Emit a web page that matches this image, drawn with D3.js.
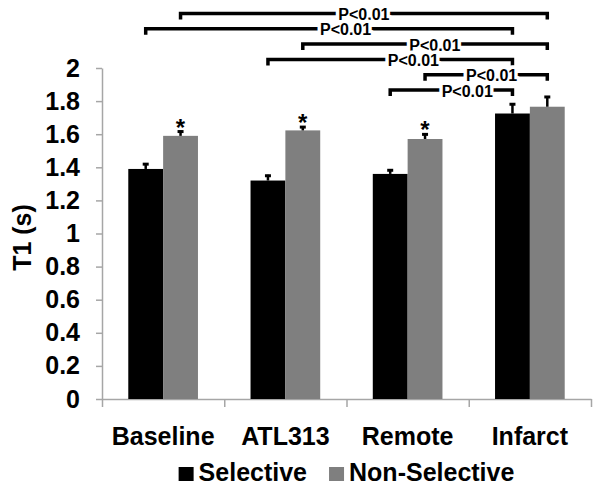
<!DOCTYPE html>
<html>
<head>
<meta charset="utf-8">
<script src="https://cdn.jsdelivr.net/npm/d3@7"></script>
<style>
    body { margin: 0; background: #fff; }
    .chart { width: 600px; height: 490px; }
    text { font-family: "Liberation Sans", Arial, sans-serif; font-weight: bold; }
</style>
</head>
<body>
<div class="chart"></div>
<script>
//chart values
const categories = ["Baseline", "ATL313", "Remote", "Infarct"];
const seriesNames = ["Selective", "Non-Selective"];
const selective = [1.39, 1.32, 1.36, 1.725];
const selectiveErr = [0.035, 0.035, 0.028, 0.062];
const nonSelective = [1.59, 1.623, 1.571, 1.766];
const nonSelectiveErr = [0.032, 0.026, 0.034, 0.065];
const starred = ["Baseline", "ATL313", "Remote"]; //star over the Non-Selective bar
const yTicks = [0, 0.2, 0.4, 0.6, 0.8, 1, 1.2, 1.4, 1.6, 1.8, 2];
const yTitle = "T1 (s)";

//significance brackets, top row first: [category, series] -> [category, series]
const brackets = [
    { from: ["Baseline", 1], to: ["Infarct", 1], label: "P<0.01" },
    { from: ["Baseline", 0], to: ["Infarct", 0], label: "P<0.01" },
    { from: ["ATL313", 1], to: ["Infarct", 1], label: "P<0.01" },
    { from: ["ATL313", 0], to: ["Infarct", 0], label: "P<0.01" },
    { from: ["Remote", 1], to: ["Infarct", 1], label: "P<0.01" },
    { from: ["Remote", 0], to: ["Infarct", 0], label: "P<0.01" }
];

let chart = {};

function init() {
    chart.colors = ["#000000", "#7f7f7f"];
    chart.rows = categories.map((c, i) => ({
        category: c,
        values: [
            { series: 0, value: selective[i], err: selectiveErr[i] },
            { series: 1, value: nonSelective[i], err: nonSelectiveErr[i] }
        ]
    }));

    setDimensions();
    setScales();
    appendElements();
}

function setDimensions() {
    chart.width = 600;
    chart.height = 490;
    chart.left = 102;
    chart.right = 591;
    chart.top = 68;
    chart.bottom = 399;
}

function setScales() {
    chart.x = d3.scaleBand().domain(categories).range([chart.left, chart.right]).padding(0);
    let bw = chart.x.bandwidth();
    chart.xInner = d3.scaleBand().domain([0, 1]).range([bw * 0.215, bw * 0.785]).padding(0);
    chart.xEdge = d3.scaleLinear().domain([0, categories.length]).range([chart.left, chart.right]);
    chart.y = d3.scaleLinear().domain([0, 2]).range([chart.bottom, chart.top]);
}

function barCenter(cat, s) {
    return chart.x(cat) + chart.xInner(s) + chart.xInner.bandwidth() / 2;
}

function appendElements() {
    chart.svg = d3.select(".chart").append("svg")
        .attr("width", chart.width)
        .attr("height", chart.height);

    //y axis
    let yAxis = chart.svg.append("g")
        .attr("transform", `translate(${chart.left},0)`)
        .call(d3.axisLeft(chart.y).tickValues(yTicks).tickSize(6).tickSizeOuter(0)
            .tickPadding(16).tickFormat(d => String(d)));
    yAxis.selectAll("line, path").attr("stroke", "#a6a6a6").attr("stroke-width", 1.5);
    yAxis.selectAll("text").attr("font-size", 25).attr("fill", "#000")
        .attr("font-family", "Liberation Sans, Arial, sans-serif");

    //x axis: ticks at the category boundaries
    let xAxis = chart.svg.append("g")
        .attr("transform", `translate(0,${chart.bottom})`)
        .call(d3.axisBottom(chart.xEdge).ticks(categories.length).tickSize(8).tickSizeOuter(0).tickFormat(""));
    xAxis.selectAll("line, path").attr("stroke", "#a6a6a6").attr("stroke-width", 1.5);

    let xLabels = chart.svg.append("g")
        .attr("transform", `translate(0,${chart.bottom})`)
        .call(d3.axisBottom(chart.x).tickSize(0).tickPadding(28));
    xLabels.select(".domain").remove();
    xLabels.selectAll("text").attr("font-size", 25).attr("fill", "#000")
        .attr("font-family", "Liberation Sans, Arial, sans-serif");

    //y title
    chart.svg.append("text")
        .attr("transform", `translate(22,${(chart.top + chart.bottom) / 2 + 4}) rotate(-90)`)
        .attr("text-anchor", "middle")
        .attr("dominant-baseline", "central")
        .attr("font-size", 25)
        .text(yTitle);

    //bars
    let groups = chart.svg.selectAll("g.cat")
        .data(chart.rows).enter()
        .append("g")
        .attr("class", "cat")
        .attr("transform", d => `translate(${chart.x(d.category)},0)`);

    groups.selectAll("rect")
        .data(d => d.values).enter()
        .append("rect")
        .attr("x", d => chart.xInner(d.series))
        .attr("width", chart.xInner.bandwidth())
        .attr("y", d => chart.y(d.value))
        .attr("height", d => chart.y(0) - chart.y(d.value))
        .attr("fill", d => chart.colors[d.series]);

    //error bars (upper only)
    let cx = d => chart.xInner(d.series) + chart.xInner.bandwidth() / 2;
    groups.selectAll("line.err")
        .data(d => d.values).enter()
        .append("line")
        .attr("class", "err")
        .attr("x1", cx).attr("x2", cx)
        .attr("y1", d => chart.y(d.value))
        .attr("y2", d => chart.y(d.value + d.err))
        .attr("stroke", "#000")
        .attr("stroke-width", 2.5);
    groups.selectAll("line.cap")
        .data(d => d.values).enter()
        .append("line")
        .attr("class", "cap")
        .attr("x1", d => cx(d) - 3).attr("x2", d => cx(d) + 3)
        .attr("y1", d => chart.y(d.value + d.err) + 1)
        .attr("y2", d => chart.y(d.value + d.err) + 1)
        .attr("stroke", "#000")
        .attr("stroke-width", 3);

    //stars
    chart.svg.selectAll("text.star")
        .data(chart.rows.filter(d => starred.includes(d.category))).enter()
        .append("text")
        .attr("class", "star")
        .attr("x", d => barCenter(d.category, 1))
        .attr("y", d => chart.y(d.values[1].value + d.values[1].err) + 5)
        .attr("text-anchor", "middle")
        .attr("font-size", 24)
        .text("*");

    //brackets
    let labelPos = [0.5, 0.545, 0.54, 0.595, 0.545, 0.63];
    let rowTop = 13.5, rowStep = 15.3, drop = 6;
    let br = chart.svg.selectAll("g.bracket")
        .data(brackets).enter()
        .append("g")
        .attr("class", "bracket");

    br.append("path")
        .attr("d", (d, i) => {
            let x1 = barCenter(d.from[0], d.from[1]);
            let x2 = barCenter(d.to[0], d.to[1]);
            let y = rowTop + i * rowStep;
            return `M${x1},${y + drop}V${y}H${x2}V${y + drop}`;
        })
        .attr("fill", "none")
        .attr("stroke", "#000")
        .attr("stroke-width", 3.5);

    br.append("text")
        .attr("x", (d, i) => {
            let x1 = barCenter(d.from[0], d.from[1]);
            let x2 = barCenter(d.to[0], d.to[1]);
            return x1 + (x2 - x1) * labelPos[i];
        })
        .attr("y", (d, i) => rowTop + i * rowStep + 1)
        .attr("text-anchor", "middle")
        .attr("dominant-baseline", "central")
        .attr("font-size", 16)
        .attr("stroke", "#fff")
        .attr("stroke-width", 7)
        .attr("stroke-linejoin", "round")
        .attr("paint-order", "stroke")
        .text(d => d.label);

    //legend, centred under the plot
    let legend = chart.svg.append("g");
    let items = legend.selectAll("g")
        .data(seriesNames).enter()
        .append("g");
    items.append("rect")
        .attr("y", 467)
        .attr("width", 15)
        .attr("height", 14)
        .attr("fill", (d, i) => chart.colors[i]);
    items.append("text")
        .attr("x", 20)
        .attr("y", 481)
        .attr("font-size", 25)
        .text(d => d);

    let offset = 0;
    items.each(function() {
        let w = 20 + this.querySelector("text").getComputedTextLength();
        d3.select(this).attr("transform", `translate(${offset},0)`);
        offset += w + 22;
    });
    let total = offset - 22;
    legend.attr("transform", `translate(${(chart.left + chart.right) / 2 - total / 2},0)`);
}

init();
</script>
</body>
</html>
